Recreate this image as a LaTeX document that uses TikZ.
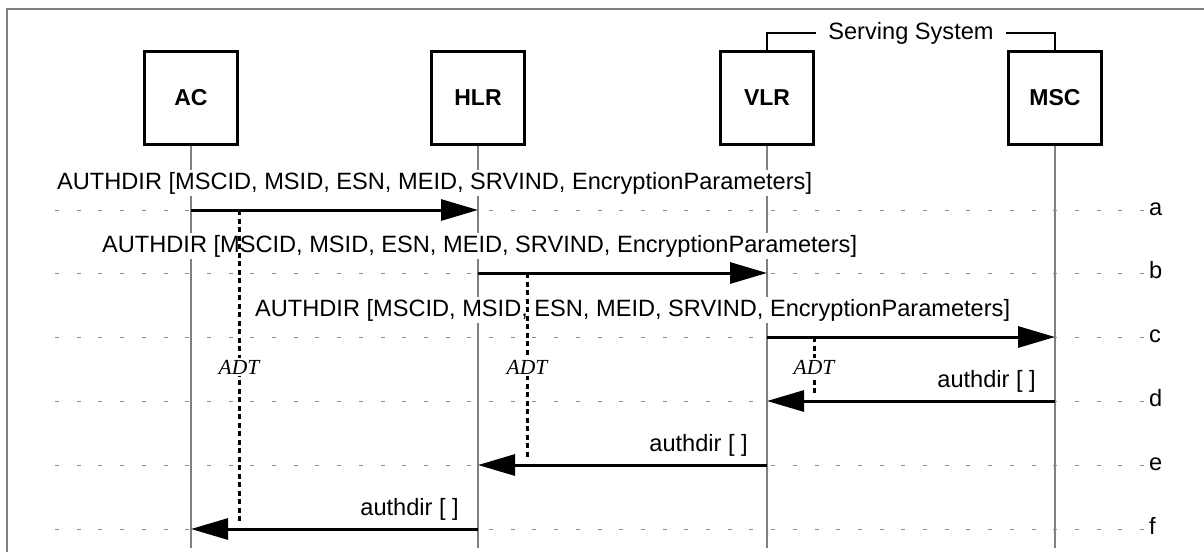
\documentclass[tikz,border=0pt]{standalone}
\usepackage{fontspec}
\setmainfont{Liberation Sans}
\newfontfamily\adtfont{Liberation Serif}
\usetikzlibrary{arrows.meta,calc}
\begin{document}
\begin{tikzpicture}[x=1pt,y=-1pt,
  ent/.style={draw=black,line width=3pt,minimum width=93pt,minimum height=93pt,inner sep=0pt,font=\fontsize{23}{28}\selectfont\bfseries},
  life/.style={draw=black!50,line width=1.5pt},
  rowline/.style={draw=black!45,line width=1pt,dash pattern=on 4pt off 17.7pt},
  msg/.style={line width=3pt,-{Triangle[length=37pt,width=21pt]}},
  lbl/.style={fill=white,inner sep=2pt,font=\fontsize{23.6}{28}\selectfont},
  rowlbl/.style={inner sep=0pt,anchor=base west,font=\fontsize{23.6}{28}\selectfont},
  adt/.style={line width=3pt,dash pattern=on 5pt off 3.5pt},
  adtlbl/.style={fill=white,inner sep=2pt,font=\adtfont\itshape\fontsize{21.5}{25}\selectfont},
]
\useasboundingbox (0,0) rectangle (1204,552);
% outer frame (cropped)
\draw[black!50,line width=2pt] (7,552) -- (7,9) -- (1204,9);

% entities
\node[ent] (AC)  at (191,98) {AC};
\node[ent] (HLR) at (478,98) {HLR};
\node[ent] (VLR) at (767,98) {VLR};
\node[ent] (MSC) at (1055,98) {MSC};

% row references
\coordinate (ra) at (0,210);
\coordinate (rb) at (0,273);
\coordinate (rc) at (0,337);
\coordinate (rd) at (0,401);
\coordinate (re) at (0,465);
\coordinate (rf) at (0,529);
\coordinate (bottom) at (0,548);

% lifelines
\foreach \n in {AC,HLR,VLR,MSC}
  \draw[life] (\n.south) -- (\n.south |- bottom);

% row dashed lines and letters
\foreach \r/\t in {ra/a,rb/b,rc/c,rd/d,re/e,rf/f}{
  \draw[rowline] ($(55,0)+(\r)$) -- ($(1145,0)+(\r)$);
  \node[rowlbl] (lab\t) at ($(1149,5)+(\r)$) {\t};
}

% Serving System bracket
\draw[line width=1.3pt] (VLR.north) -- ++(0,-17) coordinate (ssl)
  -- (ssl -| MSC.north) coordinate (ssr) -- (MSC.north);
\node[fill=white,inner xsep=12pt,inner ysep=1pt,font=\fontsize{23.6}{28}\selectfont] (ss) at ($(ssl)!0.5!(ssr)$) {Serving System};

% message labels
\node[lbl,anchor=base west] (la) at (55,189) {AUTHDIR [MSCID, MSID, ESN, MEID, SRVIND, EncryptionParameters]};
\node[lbl,anchor=base west] (lb) at (100,252) {AUTHDIR [MSCID, MSID, ESN, MEID, SRVIND, EncryptionParameters]};
\node[lbl,anchor=base west] (lc) at (253,316) {AUTHDIR [MSCID, MSID, ESN, MEID, SRVIND, EncryptionParameters]};
\node[lbl,anchor=base east] (ld) at ($(MSC |- rd)+(-17,-14)$) {authdir [ ]};
\node[lbl,anchor=base east] (le) at ($(VLR |- re)+(-17,-14)$) {authdir [ ]};
\node[lbl,anchor=base east] (lf) at ($(HLR |- rf)+(-17,-14)$) {authdir [ ]};

% messages
\draw[msg] (AC |- ra) -- (HLR |- ra);
\draw[msg] (HLR |- rb) -- (VLR |- rb);
\draw[msg] (VLR |- rc) -- (MSC |- rc);
\draw[msg] (MSC |- rd) -- (VLR |- rd);
\draw[msg] (VLR |- re) -- (HLR |- re);
\draw[msg] (HLR |- rf) -- (AC |- rf);

% ADT timers
\coordinate (t1s) at (239,210); \coordinate (t1e) at (239,524);
\coordinate (t2s) at (527,273); \coordinate (t2e) at (527,459);
\coordinate (t3s) at (814,337); \coordinate (t3e) at (814,395);
\draw[adt] (t1s) -- (t1e);
\draw[adt] (t2s) -- (t2e);
\draw[adt] (t3s) -- (t3e);
\node[adtlbl] (adt1) at (t1s |- 0,367) {ADT};
\node[adtlbl] (adt2) at (t2s |- 0,367) {ADT};
\node[adtlbl] (adt3) at (t3s |- 0,367) {ADT};
\end{tikzpicture}
\end{document}
